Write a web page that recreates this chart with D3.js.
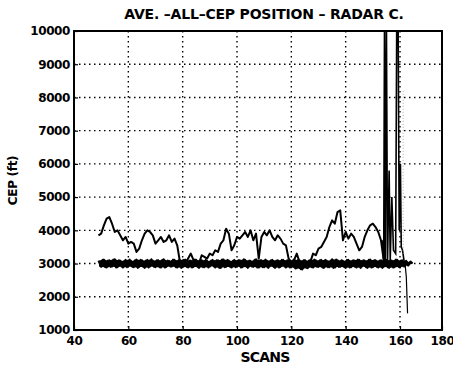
<!DOCTYPE html>
<html>
<head>
<meta charset="utf-8">
<script src="https://cdn.jsdelivr.net/npm/d3@7"></script>
<style>
  body { margin: 0; background: #fff; }
  text { font-family: 'DejaVu Sans', sans-serif; font-weight: bold; fill: #000; }
</style>
</head>
<body>
<svg id="chart"></svg>
<script>
// tick values
const xTicks = [40, 60, 80, 100, 120, 140, 160, 180]
const yTicks = [1000, 2000, 3000, 4000, 5000, 6000, 7000, 8000, 9000, 10000]

// upper CEP trace, one value per scan starting at scan 49
const traceStart = 49
const trace = [
  3850, 3900, 4150, 4350, 4400, 4200, 3950, 4000, 3850, 3700, 3800,
  3600, 3650, 3600, 3350, 3450, 3700, 3900, 4000, 3950, 3850,
  3600, 3700, 3800, 3650, 3700, 3850, 3650, 3750, 3550, 3050,
  3100, 3000, 3150, 3300, 3100, 3050, 3000, 3250, 3200, 3150,
  3300, 3250, 3400, 3350, 3600, 3700, 4050, 3900, 3400, 3550,
  3800, 3750, 3850, 3950, 3800, 4000, 3700, 3900, 3150, 3800,
  3950, 3850, 4000, 3800, 3700, 3850, 3750, 3600, 3550, 3150,
  3050, 3100, 3300, 3050, 3000, 3100, 3000, 3050, 3300, 3250,
  3450, 3500, 3650, 3800, 4100, 4300, 4200, 4550, 4600, 3700,
  3950, 3750, 3900, 3800, 3600, 3400, 3500, 3800, 4000, 4150,
  4200, 4100, 3950, 3700, 3100
]

// noisy band around 3000: samples on whole scans from 49, and on half scans from 49.5
const bandStart = 49
const band = [
  3090, 2900, 3120, 2880, 3100, 2910, 3130, 2890, 3090, 2880,
  3110, 2910, 3080, 2890, 3120, 2900, 3100, 2870, 3110, 2910,
  3090, 2890, 3100, 2880, 3130, 2900, 3080, 2910, 3110, 2880,
  3100, 2890, 3120, 2880, 3090, 2900, 3110, 2870, 3100, 2890,
  3080, 2910, 3110, 2880, 3100, 2870, 3120, 2900, 3090, 2880,
  3110, 2910, 3100, 2890, 3110, 2870, 3080, 2900, 3130, 2880,
  3100, 2890, 3090, 2910, 3110, 2870, 3100, 2900, 3110, 2880,
  3080, 2890, 3120, 2860, 3100, 2820, 3090, 2860, 3110, 2880,
  3100, 2900, 3110, 2870, 3090, 2890, 3130, 2880, 3100, 2900,
  3080, 2870, 3110, 2890, 3100, 2880, 3110, 2910, 3090, 2870,
  3120, 2890, 3100, 2880, 3100, 2900, 3110, 2870, 3090, 2890,
  3110, 2880, 3100, 2910, 3080, 2940, 3060, 3000
]
const band2Start = 49.5
const band2 = [
  2910, 3110, 2890, 3090, 2900, 3120, 2880, 3100, 2910, 3080,
  2890, 3120, 2900, 3100, 2870, 3110, 2900, 3090, 2880, 3130,
  2900, 3100, 2890, 3110, 2880, 3090, 2910, 3120, 2890, 3100,
  2870, 3110, 2900, 3090, 2880, 3120, 2900, 3100, 2890, 3110,
  2880, 3090, 2910, 3100, 2870, 3120, 2890, 3110, 2900, 3080,
  2890, 3100, 2880, 3130, 2900, 3090, 2910, 3110, 2880, 3100,
  2890, 3120, 2870, 3100, 2900, 3090, 2880, 3110, 2910, 3100,
  2880, 3090, 2850, 3110, 2830, 3100, 2870, 3090, 2890, 3120,
  2900, 3100, 2880, 3110, 2890, 3090, 2870, 3120, 2900, 3100,
  2890, 3110, 2880, 3090, 2900, 3120, 2870, 3100, 2890, 3110,
  2880, 3100, 2900, 3090, 2870, 3110, 2890, 3100, 2880, 3120,
  2900, 3090, 2920, 3070, 2950, 3040, 3000
]

// divergence at the end of the run
const spikeScans = [153.5, 154, 154.3, 154.6, 155, 155.4, 156, 156.4, 157, 157.6, 158.4, 158.8, 159.3, 159.7, 160.2, 160.6, 161.2, 162]
const spikeVals = [3700, 3050, 10400, 3100, 10400, 3000, 5800, 3100, 5000, 3400, 3300, 10400, 10400, 4000, 6000, 3500, 3400, 3050]
const tailScans = [162.4, 163, 163.6]
const tailVals = [3000, 2600, 1500]
const faintScans = [161.5, 161.5]
const faintVals = [8200, 3300]

const W = 453
const H = 370
const margin = { top: 31, right: 11, bottom: 40, left: 74 }
const _w = W - margin.left - margin.right
const _h = H - margin.top - margin.bottom

// the scanned axis is squeezed in the last interval
const x = d3.scaleLinear().domain([40, 160, 180]).range([0, 326, _w])
const y = d3.scaleLinear().domain([1000, 10000]).range([_h, 0])

const svg = d3.select('#chart').attr('width', W).attr('height', H)
const g = svg.append('g').attr('transform', `translate(${margin.left},${margin.top})`)

svg.append('clipPath').attr('id', 'clip')
  .append('rect').attr('width', _w).attr('height', _h)

// dotted grid
const grid = g.append('g')
grid.selectAll('.gx').data(xTicks.slice(1, -1)).join('line')
  .attr('x1', (d) => x(d)).attr('x2', (d) => x(d))
  .attr('y1', 0).attr('y2', _h)
grid.selectAll('.gy').data(yTicks.slice(1, -1)).join('line')
  .attr('class', 'gy')
  .attr('x1', 0).attr('x2', _w)
  .attr('y1', (d) => y(d)).attr('y2', (d) => y(d))
grid.selectAll('line')
  .attr('stroke', '#000').attr('stroke-width', 1.4)
  .attr('stroke-dasharray', '1.5,3.5')

const plot = g.append('g').attr('clip-path', 'url(#clip)')
const line = d3.line().x((d) => x(d[0])).y((d) => y(d[1]))

const path = (data, w) => plot.append('path').datum(data).attr('d', line)
  .attr('fill', 'none').attr('stroke', '#000').attr('stroke-width', w)
  .attr('stroke-linejoin', 'round')

// envelope of the two band samplings, filled solid
const env = band.slice(0, band2.length).map((v, i) => ({
  s: bandStart + i + 0.25, lo: Math.min(v, band2[i]), hi: Math.max(v, band2[i])
}))
plot.append('path').datum(env)
  .attr('d', d3.area().x((d) => x(d.s)).y0((d) => y(d.lo)).y1((d) => y(d.hi)))
  .attr('fill', '#000')

path(band.map((v, i) => [bandStart + i, v]), 2)
path(band2.map((v, i) => [band2Start + i, v]), 2)
path(trace.map((v, i) => [traceStart + i, v]), 2)
path(spikeScans.map((s, i) => [s, spikeVals[i]]), 1.6).attr('stroke-linejoin', 'miter')
path(tailScans.map((s, i) => [s, tailVals[i]]), 1.2)
path(faintScans.map((s, i) => [s, faintVals[i]]), 1)
  .attr('stroke', '#aaa').attr('stroke-dasharray', '1,2')

// axes with inward ticks
const xAxis = g.append('g').attr('transform', `translate(0,${_h})`)
  .call(d3.axisBottom(x).tickValues(xTicks).tickFormat(d3.format('d')).tickSizeInner(-4).tickSizeOuter(0).tickPadding(6))
const yAxis = g.append('g')
  .call(d3.axisLeft(y).tickValues(yTicks).tickFormat(d3.format('d')).tickSizeInner(-4).tickSizeOuter(0).tickPadding(4))
;[xAxis, yAxis].forEach((a) => {
  a.select('.domain').remove()
  a.selectAll('.tick line').attr('stroke', '#000').attr('stroke-width', 1.2)
  a.selectAll('text').attr('font-size', 12).attr('letter-spacing', -0.4)
    .style('font-family', "'DejaVu Sans', sans-serif").style('font-weight', 'bold')
})

// frame
g.append('rect').attr('width', _w).attr('height', _h)
  .attr('fill', 'none').attr('stroke', '#000').attr('stroke-width', 2)

svg.append('text').attr('x', 264).attr('y', 19)
  .attr('text-anchor', 'middle').attr('font-size', 14).attr('letter-spacing', -0.2)
  .text('AVE. \u2013ALL\u2013CEP POSITION \u2013 RADAR C.')

svg.append('text').attr('x', 265).attr('y', 362)
  .attr('text-anchor', 'middle').attr('font-size', 14).attr('letter-spacing', -0.8)
  .text('SCANS')

svg.append('text')
  .attr('transform', `translate(17,${margin.top + _h / 2}) rotate(-90)`)
  .attr('text-anchor', 'middle').attr('font-size', 12).attr('letter-spacing', -0.3)
  .text('CEP (ft)')
</script>
</body>
</html>
